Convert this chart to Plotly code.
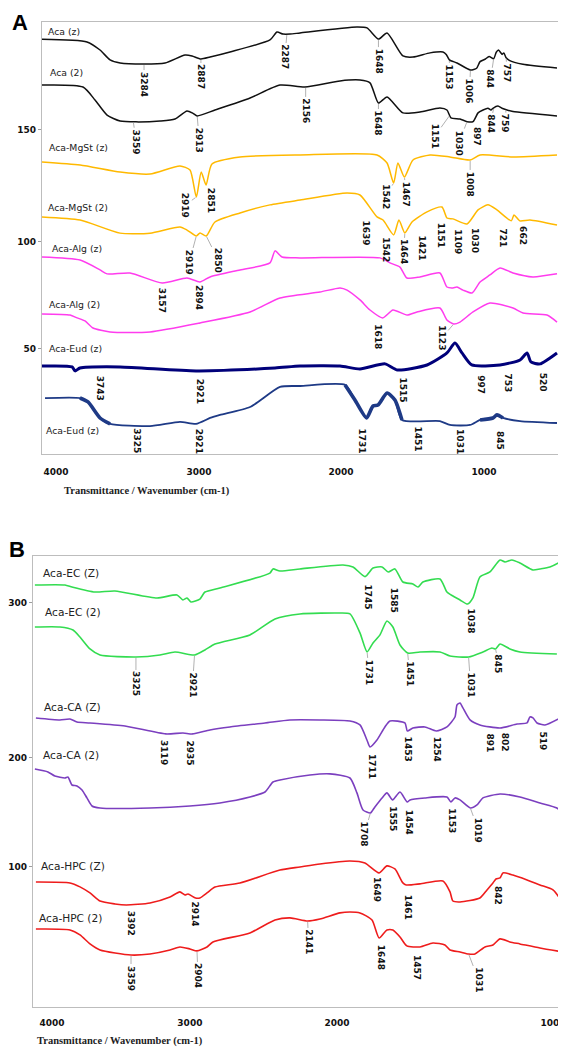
import numpy as np
import plotly.graph_objects as go

# page is rendered with an 8px body margin; figure sized to fit the 566x1047 window
PAGE_OFF = 8
W, H = 566 - PAGE_OFF, 1047 - PAGE_OFF

# ---------------- Panel A : spectra (wavenumber, offset transmittance) ----------------
aca_z_wn = [3996, 3682, 3591, 3521, 3451, 3284, 3137, 2998, 2949, 2887, 2823, 2684, 2405, 2356, 2314,
            2265, 2195, 1798, 1728, 1648, 1588, 1477, 1407, 1288, 1198, 1175, 1153, 1100, 1006, 963,
            939, 904, 876, 844, 826, 810, 785, 773, 757, 735, 640, 402]
aca_z_t = [191.4, 190.2, 186.5, 182.0, 180.6, 180.1, 180.6, 184.2, 183.8, 182.4, 183.3, 185.6, 191.1, 194.7, 193.8,
           193.8, 194.3, 197.0, 196.6, 191.5, 194.3, 183.8, 183.3, 185.2, 185.6, 184.5, 182.0, 180.6, 177.4, 178.2,
           181.2, 182.3, 183.5, 182.5, 185.5, 186.5, 184.5, 185.2, 183.0, 181.8, 180.0, 178.3]
aca_z_peaks = [3284, 2887, 2287, 1648, 1153, 1006, 844, 757]

aca_2_wn = [3996, 3710, 3626, 3542, 3451, 3340, 3172, 3068, 2984, 2940, 2913, 2789, 2544, 2335, 2161,
            1916, 1777, 1707, 1648, 1588, 1477, 1358, 1219, 1170, 1142, 1079, 1030, 988, 953, 918,
            884, 863, 849, 814, 786, 751, 709, 402]
aca_2_t = [170.5, 169.6, 163.7, 156.8, 154.1, 153.7, 154.1, 155.0, 158.7, 157.5, 156.4, 159.1, 164.6, 170.5, 169.6,
           172.4, 172.8, 171.5, 162.3, 165.1, 157.8, 158.2, 160.0, 159.1, 155.5, 155.0, 153.8, 153.8, 157.8, 159.1,
           159.9, 159.1, 159.9, 160.9, 159.9, 159.1, 158.4, 156.4]
aca_2_peaks = [3359, 2913, 2156, 1648, 1151, 1030, 897, 844, 759]

mgst_z_wn = [3996, 3730, 3451, 3242, 3033, 2963, 2919, 2885, 2851, 2810, 2614, 2195, 1658, 1588, 1542,
             1512, 1467, 1407, 1288, 1149, 1008, 939, 709, 402]
mgst_z_t = [135.4, 134.0, 130.8, 129.9, 133.6, 131.7, 119.4, 130.8, 124.9, 134.5, 137.7, 138.6, 138.6, 134.9, 125.8,
            134.9, 128.5, 136.3, 138.6, 137.7, 136.3, 138.6, 137.7, 138.6]
mgst_z_peaks = [2919, 2851, 1542, 1467, 1008]

mgst_2_wn = [3996, 3730, 3451, 3242, 3033, 2984, 2919, 2893, 2850, 2789, 2614, 2405, 2195, 1867, 1777,
             1658, 1616, 1542, 1505, 1464, 1414, 1309, 1205, 1170, 1128, 1030, 953, 884, 821, 721,
             702, 662, 591, 402]
mgst_2_t = [110.3, 108.9, 102.9, 102.9, 105.7, 104.3, 101.6, 103.0, 101.6, 108.0, 112.1, 115.8, 118.0, 121.2, 120.3,
            110.3, 108.9, 102.1, 108.9, 103.0, 108.0, 112.6, 114.8, 109.8, 109.4, 107.1, 113.5, 115.8, 113.5, 108.5,
            111.2, 108.5, 108.9, 106.6]
mgst_2_peaks = [2919, 2850, 1639, 1542, 1464, 1421, 1151, 1109, 1030, 721, 662]

alg_z_wn = [3996, 3730, 3591, 3542, 3382, 3157, 2984, 2894, 2823, 2614, 2405, 2370, 2321, 2195, 1637,
            1567, 1498, 1449, 1358, 1219, 1170, 1128, 1100, 1058, 995, 939, 870, 800, 709, 570, 402]
alg_z_t = [92.0, 90.6, 86.1, 84.3, 84.7, 80.1, 82.4, 80.6, 82.9, 86.1, 89.3, 94.8, 92.0, 91.6, 91.6,
           89.3, 87.4, 82.4, 82.9, 84.7, 78.3, 77.9, 78.3, 76.9, 75.6, 80.6, 83.8, 87.0, 84.7, 82.9, 84.3]
alg_z_peaks = [3157, 2894]

alg_2_wn = [3996, 3800, 3751, 3696, 3640, 3521, 3242, 2893, 2544, 2335, 2056, 1916, 1867, 1777, 1707,
            1618, 1547, 1449, 1379, 1219, 1170, 1123, 1079, 988, 870, 709, 639, 472, 402]
alg_2_t = [66.0, 65.5, 64.2, 62.8, 59.6, 57.8, 57.8, 61.9, 66.9, 73.3, 76.0, 77.9, 76.9, 72.4, 67.8,
           64.2, 67.8, 65.5, 66.9, 68.7, 63.2, 61.4, 62.3, 66.9, 71.0, 68.7, 66.4, 65.5, 62.3]
alg_2_peaks = [1618, 1123]

eud_z_wn = [3996, 3786, 3765, 3731, 3451, 2921, 2370, 2195, 1916, 1777, 1602, 1515, 1309, 1170, 1114,
            1065, 997, 800, 660, 611, 584, 521, 402]
eud_z_t = [42.2, 41.8, 40.0, 41.3, 41.8, 40.0, 41.3, 42.2, 42.2, 40.9, 43.2, 40.4, 42.7, 48.2, 52.7,
           48.2, 42.7, 42.7, 45.0, 48.2, 44.1, 43.2, 48.2]
eud_z_peaks = [3743, 2921, 1515, 997, 753, 520]

eud_2_wn = [3975, 3731, 3675, 3591, 3521, 3242, 3033, 2921, 2823, 2754, 2544, 2335, 2195, 1881, 1812,
            1731, 1686, 1651, 1588, 1533, 1484, 1219, 1149, 1009, 939, 849, 821, 779, 660, 402]
eud_2_t = [27.6, 27.6, 25.8, 18.5, 15.8, 14.8, 16.7, 15.8, 18.5, 19.9, 23.5, 32.7, 33.1, 33.6, 26.7,
           18.5, 24.0, 24.4, 29.9, 26.7, 17.6, 17.1, 15.3, 15.3, 17.6, 18.5, 19.9, 18.5, 17.1, 16.2]
eud_2_peaks = [3325, 2921, 1731, 1451, 1031, 845]

# ---------------- Panel B ----------------
ec_z_wn = [4022, 3815, 3766, 3608, 3470, 3180, 3042, 3001, 2973, 2946, 2884, 2849, 2746, 2401, 2380,
           2332, 2194, 1897, 1828, 1745, 1690, 1628, 1585, 1539, 1484, 1415, 1380, 1346, 1228, 1180,
           1139, 1090, 1038, 1001, 953, 884, 814, 780, 732, 677, 587, 539, 470, 387]
ec_z_t = [313.6, 313.6, 312.1, 308.3, 309.1, 303.8, 306.1, 302.3, 303.8, 300.8, 303.0, 308.3, 311.4, 322.7, 325.8,
          324.2, 325.8, 328.8, 327.3, 320.0, 326.5, 327.3, 323.5, 325.8, 315.9, 314.4, 312.1, 315.9, 318.2, 308.3,
          305.3, 302.3, 299.2, 303.8, 319.7, 323.5, 332.6, 331.1, 332.6, 330.3, 325.0, 325.8, 327.3, 331.8]
ec_z_peaks = [1745, 1585, 1038]

ec_2_wn = [4022, 3849, 3759, 3711, 3642, 3573, 3325, 3159, 3056, 2921, 2849, 2780, 2539, 2366, 2194,
           1918, 1849, 1780, 1731, 1690, 1642, 1594, 1553, 1504, 1451, 1366, 1228, 1159, 1031, 932,
           870, 845, 814, 746, 677, 422]
ec_2_t = [281.8, 281.8, 279.5, 274.2, 265.2, 260.6, 259.1, 260.6, 262.9, 260.6, 264.4, 268.9, 275.8, 287.9, 291.7,
          292.4, 291.7, 277.3, 262.9, 269.7, 275.8, 286.4, 281.8, 268.2, 262.1, 262.9, 262.9, 259.8, 259.1, 262.9,
          265.9, 265.2, 268.9, 265.2, 262.9, 261.4]
ec_2_peaks = [3325, 2921, 1731, 1451, 1031, 845]

ca_z_wn = [4015, 3849, 3780, 3732, 3642, 3401, 3119, 3001, 2935, 2815, 2677, 2435, 2263, 2056, 1849,
           1780, 1732, 1711, 1663, 1608, 1573, 1470, 1453, 1415, 1332, 1254, 1180, 1125, 1111, 1090,
           1070, 1021, 953, 814, 697, 628, 608, 587, 559, 504, 373]
ca_z_t = [212.9, 211.4, 212.1, 209.8, 209.1, 206.8, 200.8, 201.5, 200.8, 203.8, 206.1, 209.1, 211.4, 211.4, 210.6,
          207.6, 196.2, 190.9, 196.2, 206.1, 210.6, 209.1, 203.0, 205.3, 206.1, 203.0, 206.1, 213.6, 222.7, 224.2,
          220.5, 211.4, 207.6, 205.3, 208.3, 209.1, 213.6, 212.9, 209.1, 207.6, 214.4]
ca_z_peaks = [3119, 2935, 1711, 1453, 1254, 891, 802, 519]

ca_2_wn = [4022, 3932, 3884, 3815, 3794, 3766, 3732, 3697, 3663, 3628, 3573, 3228, 2953, 2746, 2539,
           2435, 2380, 2332, 2125, 1987, 1849, 1801, 1759, 1708, 1677, 1628, 1594, 1555, 1504, 1454,
           1435, 1332, 1180, 1153, 1125, 1090, 1019, 973, 932, 814, 677, 539, 422, 380]
ca_2_t = [174.2, 172.0, 168.9, 167.4, 168.2, 162.1, 161.4, 158.3, 152.3, 146.2, 144.7, 144.7, 146.2, 148.5, 153.0,
          156.8, 164.4, 165.9, 169.7, 170.5, 167.4, 156.1, 143.2, 140.9, 145.5, 152.3, 156.1, 150.8, 156.8, 149.2,
          150.8, 152.3, 153.0, 149.2, 152.3, 150.8, 144.7, 147.0, 152.3, 155.3, 153.0, 148.5, 144.7, 140.9]
ca_2_peaks = [1708, 1555, 1454, 1153, 1019]

hpc_z_wn = [4015, 3780, 3711, 3642, 3573, 3470, 3392, 3228, 3090, 3022, 2987, 2966, 2914, 2884, 2835,
            2780, 2608, 2332, 2194, 2056, 1849, 1746, 1649, 1594, 1539, 1484, 1461, 1366, 1208, 1159,
            1139, 1090, 953, 904, 863, 842, 814, 794, 725, 628, 539, 449, 380]
hpc_z_t = [88.6, 87.9, 84.9, 80.3, 74.2, 72.0, 71.2, 72.7, 77.3, 81.1, 78.8, 79.5, 76.5, 76.5, 80.3,
           84.8, 87.9, 97.7, 100.0, 102.3, 104.5, 103.0, 95.5, 100.8, 98.5, 87.9, 86.4, 87.2, 89.4, 81.1,
           74.2, 73.5, 76.5, 82.6, 87.9, 90.9, 91.7, 95.5, 93.9, 90.2, 86.4, 82.6, 72.7]
hpc_z_peaks = [3392, 2914, 1649, 1461, 842]

hpc_2_wn = [4015, 3780, 3711, 3642, 3573, 3359, 3228, 3090, 3022, 2953, 2904, 2835, 2794, 2539, 2366,
            2263, 2141, 2056, 1918, 1849, 1780, 1697, 1648, 1594, 1553, 1504, 1457, 1366, 1277, 1194,
            1159, 1090, 1031, 987, 918, 863, 814, 746, 677, 539, 380]
hpc_2_t = [53.0, 52.3, 48.5, 41.7, 37.1, 33.3, 34.1, 37.1, 39.4, 37.9, 36.4, 39.4, 43.2, 50.0, 59.8,
           61.4, 59.1, 60.6, 65.2, 65.9, 65.2, 59.8, 46.2, 52.3, 52.3, 47.0, 40.2, 39.4, 42.4, 40.9,
           37.1, 35.6, 34.1, 34.1, 39.4, 40.9, 45.5, 43.2, 41.7, 38.6, 35.6]
hpc_2_peaks = [3359, 2904, 2141, 1648, 1457, 1031]

# tick labels
xtick_text = ["4000", "3000", "2000", "1000"]
ytick_text_a = ["150", "100", "50"]
ytick_text_b = ["300", "200", "100"]

# ---------------- layout / styling (positions, not data) ----------------
def px(x):
    return (x - PAGE_OFF) / W

def py(y):
    return 1 - (y - PAGE_OFF) / H

# label offsets (dx px, dy px, leader line shown)
OFF = {
    "aca_z": [(0, 20, 1), (0, 18, 1), (-2, 23, 1), (0, 22, 1), (0, 17, 1), (-1, 21, 1), (-3, 20, 1), (1, 15, 1)],
    "aca_2": [(3, 20, 1), (2, 24, 1), (0, 24, 1), (0, 20, 1), (-15, 21, 1), (-8, 21, 1), (-9, 27, 0), (-3, 16, 1), (0, 14, 1)],
    "mgst_z": [(-11, 8, 1), (5, 15, 1), (-8, 14, 1), (2, 17, 1), (0, 24, 1)],
    "mgst_2": [(-7, 26, 1), (12, 24, 1), (-14, 15, 0), (-8, 15, 0), (-1, 19, 1), (11, 25, 0), (-9, 17, 0),
               (2, 22, 0), (8, 16, 0), (-8, 17, 0), (3, 15, 0)],
    "alg_z": [(0, 17, 0), (-1, 16, 0)],
    "alg_2": [(-5, 19, 0), (-12, 14, 1)],
    "eud_z": [(22, 19, 0), (4, 20, 0), (5, 20, 0), (9, 20, 0), (1, 20, 0), (3, 18, 0)],
    "eud_2": [(-2, 15, 0), (3, 17, 0), (-5, 23, 0), (11, 19, 0), (-7, 17, 0), (7, 23, 0)],
    "ec_z": [(3, 20, 0), (6, 28, 0), (3, 17, 0)],
    "ec_2": [(0, 27, 1), (-2, 30, 1), (2, 20, 1), (2, 21, 1), (2, 28, 1), (3, 15, 1)],
    "ca_z": [(-2, 19, 0), (-2, 19, 0), (2, 20, 0), (1, 18, 0), (1, 18, 0), (1, 17, 0), (4, 15, 0), (0, 17, 0)],
    "ca_2": [(-6, 21, 1), (0, 19, 0), (2, 20, 0), (1, 19, 0), (8, 22, 1)],
    "hpc_z": [(5, 18, 0), (-1, 16, 0), (-2, 17, 0), (2, 22, 0), (2, 17, 0)],
    "hpc_2": [(0, 23, 1), (1, 25, 1), (1, 21, 1), (2, 19, 0), (10, 22, 0), (10, 26, 1)],
}

# index ranges of the Aca-Eud (2) trace that are drawn with a heavier stroke in the original
EUD2_HEAVY = [(1, 5), (13, 21), (24, 28)]

BLACK = "#111111"
ORANGE = "#FFB900"
MAGENTA = "#FF3CEE"
NAVY = "#00007A"
NAVY2 = "#1E3A86"
GREEN = "#33DC50"
PURPLE = "#7B3FBF"
RED = "#EE1C1C"

series = [
    # key, wn, t, peaks, color, width, panel, name, name position (page px)
    ("aca_z", aca_z_wn, aca_z_t, aca_z_peaks, BLACK, 1.5, "A", "Aca (z)", (46, 31)),
    ("aca_2", aca_2_wn, aca_2_t, aca_2_peaks, BLACK, 1.5, "A", "Aca (2)", (48, 73)),
    ("mgst_z", mgst_z_wn, mgst_z_t, mgst_z_peaks, ORANGE, 1.5, "A", "Aca-MgSt (z)", (47, 148)),
    ("mgst_2", mgst_2_wn, mgst_2_t, mgst_2_peaks, ORANGE, 1.5, "A", "Aca-MgSt (2)", (46, 208)),
    ("alg_z", alg_z_wn, alg_z_t, alg_z_peaks, MAGENTA, 1.5, "A", "Aca-Alg (z)", (50, 248)),
    ("alg_2", alg_2_wn, alg_2_t, alg_2_peaks, MAGENTA, 1.5, "A", "Aca-Alg (2)", (47, 304)),
    ("eud_z", eud_z_wn, eud_z_t, eud_z_peaks, NAVY, 3.0, "A", "Aca-Eud (z)", (47, 348)),
    ("eud_2", eud_2_wn, eud_2_t, eud_2_peaks, NAVY2, 1.8, "A", "Aca-Eud (z)", (44, 430)),
    ("ec_z", ec_z_wn, ec_z_t, ec_z_peaks, GREEN, 1.6, "B", "Aca-EC (Z)", (41, 573)),
    ("ec_2", ec_2_wn, ec_2_t, ec_2_peaks, GREEN, 1.6, "B", "Aca-EC (2)", (43, 612)),
    ("ca_z", ca_z_wn, ca_z_t, ca_z_peaks, PURPLE, 1.6, "B", "Aca-CA (Z)", (42, 707)),
    ("ca_2", ca_2_wn, ca_2_t, ca_2_peaks, PURPLE, 1.6, "B", "Aca-CA (2)", (41, 755)),
    ("hpc_z", hpc_z_wn, hpc_z_t, hpc_z_peaks, RED, 1.6, "B", "Aca-HPC (Z)", (39, 866)),
    ("hpc_2", hpc_2_wn, hpc_2_t, hpc_2_peaks, RED, 1.6, "B", "Aca-HPC (2)", (37, 918)),
]

fig = go.Figure()
annotations = []
PEAK_FONT = dict(family="DejaVu Sans", size=9, color="#111111", weight="bold")

for key, wn, t, peaks, color, width, panel, name, npos in series:
    xa, ya = ("x", "y") if panel == "A" else ("x2", "y2")
    fig.add_trace(go.Scatter(
        x=wn, y=t, mode="lines", xaxis=xa, yaxis=ya, showlegend=False, hoverinfo="skip",
        line=dict(color=color, width=width, shape="spline", smoothing=0.6)))
    if key == "eud_2":
        for a, b in EUD2_HEAVY:
            fig.add_trace(go.Scatter(
                x=wn[a:b], y=t[a:b], mode="lines", xaxis=xa, yaxis=ya, showlegend=False,
                hoverinfo="skip", line=dict(color=color, width=3.6, shape="spline", smoothing=0.6)))
    xs = np.array(wn[::-1], float)
    ys = np.array(t[::-1], float)
    for p, (dx, dy, lead) in zip(peaks, OFF[key]):
        tip = float(np.interp(p, xs, ys))
        annotations.append(dict(
            x=p, y=tip, xref=xa, yref=ya, text=str(p), textangle=90,
            showarrow=True, ax=dx, ay=dy, arrowhead=0, arrowwidth=0.8, standoff=1,
            arrowcolor="#9d9d9d" if lead else "rgba(0,0,0,0)",
            font=PEAK_FONT))
    annotations.append(dict(
        x=px(npos[0]), y=py(npos[1]), xref="paper", yref="paper", text=name,
        showarrow=False, xanchor="left", yanchor="middle",
        font=dict(family="DejaVu Sans", size=9.3 if panel == "A" else 10.6, color="#222222")))

# panel letters and axis captions
annotations += [
    dict(x=px(20), y=py(23), xref="paper", yref="paper", text="A", showarrow=False,
         xanchor="center", yanchor="middle",
         font=dict(family="Liberation Sans", size=22, color="#000000", weight="bold")),
    dict(x=px(17), y=py(549), xref="paper", yref="paper", text="B", showarrow=False,
         xanchor="center", yanchor="middle",
         font=dict(family="Liberation Sans", size=22, color="#000000", weight="bold")),
    dict(x=px(62), y=py(491), xref="paper", yref="paper", text="Transmittance / Wavenumber (cm-1)",
         showarrow=False, xanchor="left", yanchor="middle",
         font=dict(family="Liberation Serif", size=10.5, color="#222222", weight="bold")),
    dict(x=px(35), y=py(1041), xref="paper", yref="paper", text="Transmittance / Wavenumber (cm-1)",
         showarrow=False, xanchor="left", yanchor="middle",
         font=dict(family="Liberation Serif", size=10.5, color="#222222", weight="bold")),
]

TICKFONT = dict(family="DejaVu Sans", size=9, color="#111111", weight="bold")
frame = dict(showline=True, mirror=True, linecolor="#bdbdbd", linewidth=1.3,
             showgrid=False, zeroline=False, automargin=False)

fig.update_layout(
    width=W, height=H, paper_bgcolor="white", plot_bgcolor="white",
    margin=dict(l=0, r=0, t=0, b=0),
    annotations=annotations,
    xaxis=dict(domain=[px(42), px(558)], range=[3996, 395], anchor="y",
               tickmode="array", tickvals=[3898, 2900, 1909, 911], ticktext=xtick_text,
               ticks="", ticklabelstandoff=9, tickfont=TICKFONT, **frame),
    yaxis=dict(domain=[py(454), py(22)], range=[2.05, 199.3], anchor="x",
               tickmode="array", tickvals=[150, 99, 50], ticktext=ytick_text_a,
               ticks="outside", ticklen=3, tickcolor="#9d9d9d", tickfont=TICKFONT, **frame),
    xaxis2=dict(domain=[px(33), px(565)], range=[4035, 366], anchor="y2",
                tickmode="array", tickvals=[3904, 2953, 1939, 449], ticktext=xtick_text,
                ticks="", ticklabelstandoff=7, tickfont=TICKFONT, **frame),
    yaxis2=dict(domain=[py(1007), py(556)], range=[-6.1, 335.6], anchor="x2",
                tickmode="array", tickvals=[300, 183, 100], ticktext=ytick_text_b,
                ticks="outside", ticklen=3, tickcolor="#9d9d9d", tickfont=TICKFONT, **frame),
)

fig.write_html("out.html")
